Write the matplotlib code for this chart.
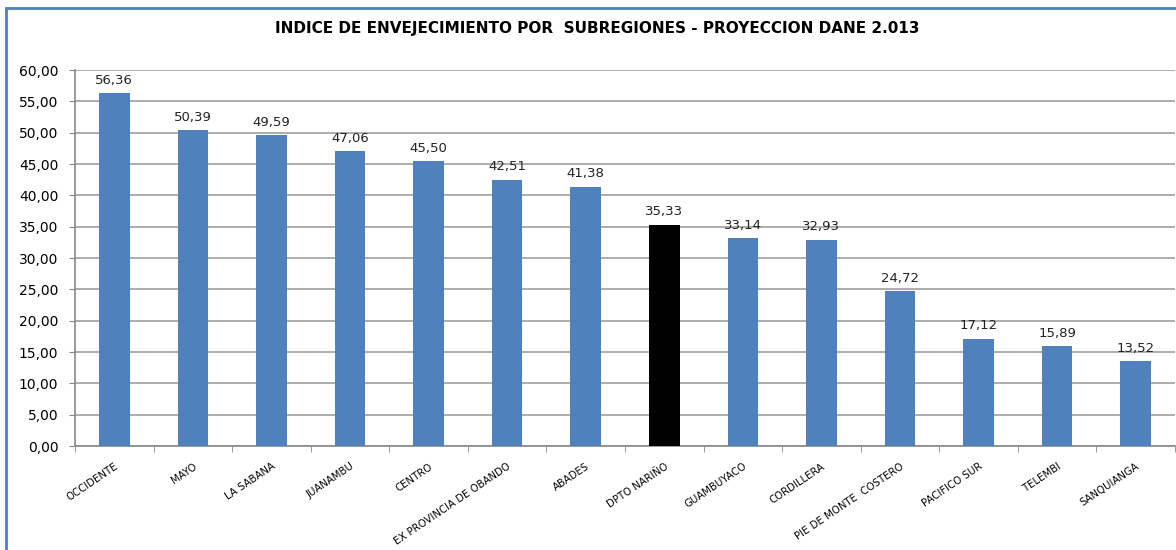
import numpy as np
import matplotlib
matplotlib.use('Agg')
from matplotlib import pyplot as plt
from matplotlib.patches import Rectangle

plt.rcParams['font.family'] = ['DejaVu Sans']

subregiones = ['OCCIDENTE', 'MAYO', 'LA SABANA', 'JUANAMBU', 'CENTRO',
               'EX PROVINCIA DE OBANDO', 'ABADES', 'DPTO NARIÑO', 'GUAMBUYACO',
               'CORDILLERA', 'PIE DE MONTE  COSTERO', 'PACIFICO SUR', 'TELEMBI',
               'SANQUIANGA']
indice = [56.36, 50.39, 49.59, 47.06, 45.50, 42.51, 41.38, 35.33, 33.14,
          32.93, 24.72, 17.12, 15.89, 13.52]
resaltado = 'DPTO NARIÑO'

azul = '#4F81BD'
colores = ['black' if s == resaltado else azul for s in subregiones]

fig = plt.figure(figsize=(11.76, 5.5), dpi=100)
ax = fig.add_axes([75 / 1176, 1 - 446 / 550, 1100 / 1176, 376 / 550])

x = np.arange(len(subregiones))
ax.bar(x, indice, width=0.39, color=colores, zorder=3)

for xi, v in zip(x, indice):
    ax.text(xi, v + 1.0, f'{v:.2f}'.replace('.', ','), ha='center', va='bottom',
            fontsize=9.5, color='#222222')

ax.set_ylim(0, 60)
ax.set_xlim(-0.5, len(subregiones) - 0.5)
yt = np.arange(0, 61, 5)
ax.set_yticks(yt)
ax.set_yticklabels([f'{v:.2f}'.replace('.', ',') for v in yt], fontsize=10)
ax.yaxis.grid(True, color='#A0A0A0', linewidth=1.2, zorder=0)
ax.tick_params(axis='y', length=4, color='#888888', pad=8)

ax.set_xticks(x)
ax.set_xticklabels(subregiones, rotation=34, ha='right', rotation_mode='anchor',
                   fontsize=7.3)
ax.tick_params(axis='x', length=0, pad=11)
ax.set_xticks(np.arange(-0.5, len(subregiones), 1), minor=True)
ax.tick_params(axis='x', which='minor', length=4, color='#888888')

for s in ['top', 'right']:
    ax.spines[s].set_visible(False)
for s in ['left', 'bottom']:
    ax.spines[s].set_color('#888888')
    ax.spines[s].set_linewidth(1.2)

fig.text(597 / 1176, 1 - 28 / 550,
         'INDICE DE ENVEJECIMIENTO POR  SUBREGIONES - PROYECCION DANE 2.013',
         ha='center', va='center', fontsize=11, fontweight='bold')

# marco del grafico
fig.patches.append(Rectangle((6 / 1176, -0.1), 1.2, 1 - 7.5 / 550 + 0.1,
                             transform=fig.transFigure, fill=False,
                             edgecolor=azul, linewidth=2))

fig.savefig('out.png', dpi=100)
